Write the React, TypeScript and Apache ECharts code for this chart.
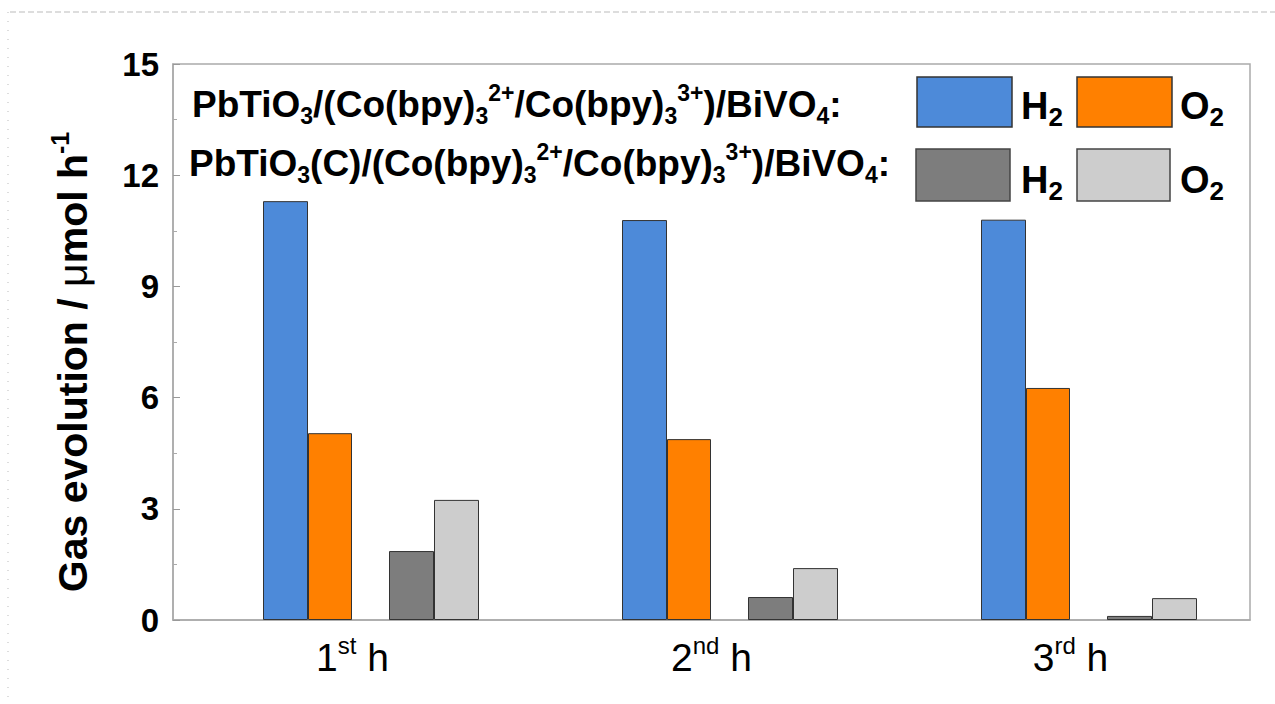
import React, { useEffect, useRef } from "react";
import * as echarts from "echarts";

const categories = ["1st h", "2nd h", "3rd h"];
const yTicks = [0, 3, 6, 9, 12, 15];
const h2Main = [11.3, 10.79, 10.8];
const o2Main = [5.04, 4.88, 6.26];
const h2Ctrl = [1.86, 0.62, 0.11];
const o2Ctrl = [3.24, 1.4, 0.59];
const seriesNames = ["H2 (PbTiO3)", "O2 (PbTiO3)", "H2 (PbTiO3(C))", "O2 (PbTiO3(C))"];
const yTitle = "{n|Gas evolution / }{mu|μ}{n|mol h}{sup|-1}";
const legendLine1 = "{n|PbTiO}{sub|3}{n|/(Co(bpy)}{sub|3}{sup|2+}{n|/Co(bpy)}{sub|3}{sup|3+}{n|)/BiVO}{sub|4}{n|:}";
const legendLine2 = "{n|PbTiO}{sub|3}{n|(C)/(Co(bpy)}{sub|3}{sup|2+}{n|/Co(bpy)}{sub|3}{sup|3+}{n|)/BiVO}{sub|4}{n|:}";

const FONT = 'Arial, "Liberation Sans", Helvetica, sans-serif';
const COLORS = ["#4d8ad9", "#ff8000", "#7d7d7d", "#cdcdcd"];

function richStyles(size: number, weight: string, ratio = 0.62) {
  const lh = Math.round(size * 1.25);
  const small = Math.round(size * ratio);
  return {
    n: { fontSize: size, fontWeight: weight, fontFamily: FONT, color: "#000", lineHeight: lh },
    sub: { fontSize: small, fontWeight: weight, fontFamily: FONT, color: "#000", lineHeight: small, verticalAlign: "bottom" },
    sup: { fontSize: small, fontWeight: weight, fontFamily: FONT, color: "#000", lineHeight: small, verticalAlign: "top" },
    mu: { fontSize: size, fontWeight: "normal", fontFamily: FONT, color: "#000", lineHeight: lh },
  };
}

export default function App() {
  const ref = useRef<HTMLDivElement>(null);
  useEffect(() => {
    if (!ref.current) return;
    const chart = echarts.init(ref.current, undefined, { renderer: "svg" });
    const barCommon = { type: "bar", barGap: "0%", itemStyle: { borderColor: "#333", borderWidth: 1 } };
    const spacer = { type: "bar", barGap: "0%", barWidth: 37, data: [] as number[], silent: true };
    const legendRich = richStyles(37, "bold");
    const gasRich = richStyles(38, "bold", 0.68);
    const option: any = {
      animation: false,
      backgroundColor: "#fff",
      grid: { left: 173, right: 25, top: 64, bottom: 84, show: true, borderColor: "#aaa", borderWidth: 1.5 },
      xAxis: {
        type: "category",
        data: categories,
        axisLine: { lineStyle: { color: "#aaa", width: 1.5 } },
        axisTick: { show: false },
        axisLabel: {
          margin: 13,
          formatter: (v: string) => {
            const m = v.match(/^(\d)(\w+) h$/);
            return m ? `{n|${m[1]}}{sup|${m[2]}}{n| h}` : v;
          },
          rich: richStyles(39, "normal"),
        },
      },
      yAxis: {
        type: "value",
        min: yTicks[0],
        max: yTicks[yTicks.length - 1],
        interval: 3,
        axisLine: { show: true, lineStyle: { color: "#aaa", width: 1.5 } },
        axisTick: { show: true, inside: true, length: 7, lineStyle: { color: "#999" } },
        minorTick: { show: true, splitNumber: 2, length: 4, lineStyle: { color: "#aaa" } },
        splitLine: { show: false },
        axisLabel: { margin: 14, fontSize: 33, fontWeight: "bold", color: "#000", fontFamily: FONT },
      },
      series: [
        { ...spacer, name: "gap0" },
        { ...barCommon, name: seriesNames[0], data: h2Main, barWidth: 45, itemStyle: { ...barCommon.itemStyle, color: COLORS[0] } },
        { ...barCommon, name: seriesNames[1], data: o2Main, barWidth: 44, itemStyle: { ...barCommon.itemStyle, color: COLORS[1] } },
        { ...spacer, name: "gap1" },
        { ...barCommon, name: seriesNames[2], data: h2Ctrl, barWidth: 45, itemStyle: { ...barCommon.itemStyle, color: COLORS[2] } },
        { ...barCommon, name: seriesNames[3], data: o2Ctrl, barWidth: 45, itemStyle: { ...barCommon.itemStyle, color: COLORS[3] } },
      ],
      graphic: [
        { type: "line", shape: { x1: 10, y1: 12, x2: 1275, y2: 12 }, style: { stroke: "#bbb", lineWidth: 1, lineDash: [6, 3] } },
        { type: "line", shape: { x1: 8, y1: 12, x2: 8, y2: 704 }, style: { stroke: "#bbb", lineWidth: 1, lineDash: [1, 8] } },
        {
          type: "text", x: 73, y: 362, rotation: Math.PI / 2,
          style: { text: yTitle, rich: richStyles(41, "bold"), align: "center", verticalAlign: "middle" },
        },
        {
          type: "text", x: 192, y: 104,
          style: { text: legendLine1, rich: legendRich, align: "left", verticalAlign: "middle" },
        },
        {
          type: "text", x: 189, y: 163,
          style: { text: legendLine2, rich: legendRich, align: "left", verticalAlign: "middle" },
        },
        { type: "rect", shape: { x: 917, y: 77, width: 95, height: 50 }, style: { fill: COLORS[0], stroke: "#333", lineWidth: 1.5 } },
        { type: "rect", shape: { x: 1077, y: 77, width: 95, height: 50 }, style: { fill: COLORS[1], stroke: "#333", lineWidth: 1.5 } },
        { type: "rect", shape: { x: 916, y: 149, width: 94, height: 52 }, style: { fill: COLORS[2], stroke: "#444", lineWidth: 1.5 } },
        { type: "rect", shape: { x: 1077, y: 149, width: 93, height: 52 }, style: { fill: COLORS[3], stroke: "#444", lineWidth: 1.5 } },
        { type: "text", x: 1021, y: 106, style: { text: "{n|H}{sub|2}", rich: gasRich, align: "left", verticalAlign: "middle" } },
        { type: "text", x: 1180, y: 106, style: { text: "{n|O}{sub|2}", rich: gasRich, align: "left", verticalAlign: "middle" } },
        { type: "text", x: 1021, y: 180, style: { text: "{n|H}{sub|2}", rich: gasRich, align: "left", verticalAlign: "middle" } },
        { type: "text", x: 1180, y: 180, style: { text: "{n|O}{sub|2}", rich: gasRich, align: "left", verticalAlign: "middle" } },
      ],
    };
    chart.setOption(option);
    return () => chart.dispose();
  }, []);
  return (
    <div
      ref={ref}
      style={{ position: "fixed", left: 0, top: 0, width: 1275, height: 704, background: "#fff" }}
    />
  );
}
